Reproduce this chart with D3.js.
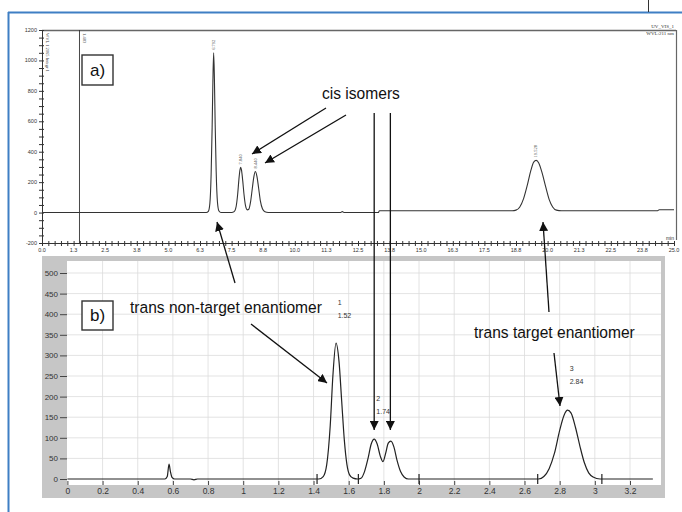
<!DOCTYPE html>
<html><head><meta charset="utf-8">
<script src="https://cdn.jsdelivr.net/npm/d3@7"></script>
<style>body{margin:0;background:#fff}svg{display:block}</style>
</head><body>
<svg id="c" width="682" height="512"></svg>
<script>
// ---------- chart (a): HPLC chromatogram, time (min) vs mAU ----------
const aTime = [0, 6.50, 6.58, 6.64, 6.69, 6.73, 6.76, 6.79, 6.82, 6.85, 6.89, 6.94, 7.00, 7.08,
  7.50, 7.60, 7.68, 7.74, 7.79, 7.83, 7.86, 7.89, 7.94, 7.99, 8.05, 8.12, 8.18, 8.25, 8.32, 8.38,
  8.44, 8.50, 8.57, 8.64, 8.72, 8.82, 8.95, 11.80, 11.88, 11.96, 13.30, 13.35, 18.60, 18.75, 18.90,
  19.05, 19.20, 19.33, 19.45, 19.55, 19.65, 19.78, 19.92, 20.06, 20.20, 20.35, 20.55, 24.35, 24.42, 25.0];
const aSignal = [0, 0, 8, 60, 250, 560, 860, 1050, 880, 580, 270, 70, 10, 0,
  0, 6, 40, 120, 220, 280, 297, 280, 210, 120, 45, 18, 22, 70, 160, 235,
  270, 240, 160, 75, 25, 5, 0, 0, 6, 0, 0, 12, 12, 16, 37,
  92, 182, 272, 332, 343, 326, 262, 172, 87, 37, 16, 12, 12, 19, 19];
const aPeakTimes = [6.792, 7.840, 8.440, 19.528];
const aPeakValues = [1050, 297, 270, 343];
const aPeakLabels = ["6.792", "7.840", "8.440", "19.528"];
const aXTicks = [0, 1.25, 2.5, 3.75, 5, 6.25, 7.5, 8.75, 10, 11.25, 12.5, 13.75, 15, 16.25, 17.5, 18.75, 20, 21.25, 22.5, 23.75, 25];
const aXTickLabels = ["0.0","1.3","2.5","3.8","5.0","6.3","7.5","8.8","10.0","11.3","12.5","13.8","15.0","16.3","17.5","18.8","20.0","21.3","22.5","23.8","25.0"];
const aYTicks = [-200, 0, 200, 400, 600, 800, 1000, 1200];
const aInjectionTime = 1.483;

// ---------- chart (b): chromatogram ----------
const bTime = [0, 0.555, 0.568, 0.578, 0.586, 0.595, 0.61, 0.70, 0.72, 0.74,
  1.43, 1.455, 1.475, 1.495, 1.51, 1.528, 1.545, 1.56, 1.575, 1.59, 1.605, 1.625, 1.65,
  1.67, 1.69, 1.71, 1.728, 1.745, 1.762, 1.78, 1.795, 1.81, 1.825, 1.84, 1.857, 1.875, 1.895, 1.915, 1.94,
  2.68, 2.71, 2.74, 2.77, 2.80, 2.825, 2.845, 2.865, 2.89, 2.915, 2.94, 2.965, 2.99, 3.03, 3.33];
const bSignal = [0, 0, 6, 36, 18, 4, 0, 0, -2, 0,
  0, 6, 35, 130, 250, 330, 285, 190, 95, 35, 10, 2, 0,
  2, 18, 50, 85, 97, 85, 55, 42, 62, 87, 92, 78, 45, 18, 5, 0,
  0, 6, 25, 62, 118, 155, 167, 160, 125, 80, 40, 15, 5, 0, 0];
const bPeakNumbers = ["1", "2", "3"];
const bPeakTimes = ["1.52", "1.74", "2.84"];
const bPeakLabelX = [1.52, 1.74, 2.84];
const bPeakLabelY = [422, 189, 262];
const bXTicks = [0, 0.2, 0.4, 0.6, 0.8, 1, 1.2, 1.4, 1.6, 1.8, 2, 2.2, 2.4, 2.6, 2.8, 3, 3.2];
const bYTicks = [0, 50, 100, 150, 200, 250, 300, 350, 400, 450, 500];
const bIntegrationMarks = [1.42, 1.655, 2.0, 2.675, 3.04];

// ---------- drawing ----------
const svg = d3.select("#c");
const narrow = "'Liberation Sans Narrow','Arial Narrow','Liberation Sans',Arial,sans-serif";

// text squeezed horizontally to a given width (condensed look)
function fitText(g, str, x, y, width, size) {
  const t = g.append("text").attr("font-size", size).attr("font-family", narrow).attr("fill", "#111").text(str);
  const len = t.node().getComputedTextLength();
  t.attr("transform", `translate(${x},${y}) scale(${width / len},1)`);
  return t;
}

const defs = svg.append("defs");
defs.append("marker").attr("id", "ah").attr("viewBox", "0 0 10 10").attr("refX", 10).attr("refY", 5)
  .attr("markerWidth", 9).attr("markerHeight", 9).attr("markerUnits", "userSpaceOnUse").attr("orient", "auto")
  .append("path").attr("d", "M0,0 L10,5 L0,10 Z").attr("fill", "#111");

// blue frame
svg.append("line").attr("x1", 8.5).attr("x2", 8.5).attr("y1", 12).attr("y2", 512).attr("stroke", "#3f7fc4").attr("stroke-width", 2);
svg.append("line").attr("x1", 8).attr("x2", 682).attr("y1", 12.5).attr("y2", 12.5).attr("stroke", "#3f7fc4").attr("stroke-width", 2);
svg.append("line").attr("x1", 648.5).attr("x2", 648.5).attr("y1", 0).attr("y2", 12).attr("stroke", "#333").attr("stroke-width", 1);

// ===== chart a =====
const xA = d3.scaleLinear().domain([0, 25]).range([42, 674]);
const yA = d3.scaleLinear().domain([-200, 1200]).range([243, 30]);
const gA = svg.append("g");
gA.append("line").attr("x1", 42).attr("x2", 676).attr("y1", 30.5).attr("y2", 30.5).attr("stroke", "#666").attr("stroke-width", 1.6);
gA.append("line").attr("x1", 676.5).attr("x2", 676.5).attr("y1", 30).attr("y2", 240).attr("stroke", "#666").attr("stroke-width", 1.2);

const axA = gA.append("g").attr("transform", `translate(0,${yA(-200)})`);
axA.call(d3.axisBottom(xA).tickValues(d3.range(0, 25.01, 0.25)).tickSize(3).tickFormat(""));
axA.selectAll(".tick line").attr("y1", -2).attr("stroke", "#333");
axA.select(".domain").attr("stroke", "#333");
axA.selectAll(".tickl").data(aXTicks).enter().append("text")
  .attr("x", d => xA(d)).attr("y", 8.5).attr("text-anchor", "middle")
  .attr("font-size", 5.5).attr("font-family", "Arial,sans-serif").attr("fill", "#333")
  .text((d, i) => aXTickLabels[i]);
axA.append("text").attr("x", 674).attr("y", -3).attr("text-anchor", "end").attr("font-size", 5).attr("fill", "#333").text("min");

const ayA = gA.append("g").attr("transform", `translate(${xA(0)},0)`);
ayA.call(d3.axisLeft(yA).tickValues(d3.range(-200, 1201, 50)).tickSize(3).tickFormat(""));
ayA.selectAll(".tick line").attr("x1", 2).attr("stroke", "#333");
ayA.select(".domain").attr("stroke", "#333");
ayA.selectAll(".tickl").data(aYTicks).enter().append("text")
  .attr("x", -5).attr("y", d => yA(d) + 2).attr("text-anchor", "end")
  .attr("font-size", 5.5).attr("font-family", "Arial,sans-serif").attr("fill", "#333").text(d => d);

gA.append("line").attr("x1", xA(aInjectionTime)).attr("x2", xA(aInjectionTime)).attr("y1", yA(1200)).attr("y2", yA(-200)).attr("stroke", "#333").attr("stroke-width", 0.9);
gA.append("text").attr("transform", `translate(${xA(aInjectionTime) + 4},33) rotate(90)`).attr("font-size", 4.5).attr("fill", "#444").text("1.483");
gA.append("text").attr("transform", `translate(${xA(0) + 4},33) rotate(90)`).attr("font-size", 4.5).attr("fill", "#444").text("WVL 1 2065 Integr 1");

gA.append("text").attr("x", 674).attr("y", 28).attr("text-anchor", "end").attr("font-size", 5).attr("fill", "#333").text("UV_VIS_1");
gA.append("text").attr("x", 674).attr("y", 35).attr("text-anchor", "end").attr("font-size", 5).attr("fill", "#333").text("WVL:211 nm");

const lineA = d3.line().x((d, i) => xA(aTime[i])).y(d => yA(d)).curve(d3.curveMonotoneX);
gA.append("path").attr("d", lineA(aSignal)).attr("fill", "none").attr("stroke", "#333").attr("stroke-width", 1.1);

gA.selectAll(".pl").data(aPeakLabels).enter().append("text")
  .attr("transform", (d, i) => `translate(${xA(aPeakTimes[i]) + 1.5},${yA(aPeakValues[i]) - 3}) rotate(-90)`)
  .attr("font-size", 4.5).attr("fill", "#444").text(d => d);

gA.append("rect").attr("x", 82).attr("y", 55).attr("width", 31).attr("height", 30).attr("fill", "#fff").attr("stroke", "#333").attr("stroke-width", 1.4);
gA.append("text").attr("x", 97.5).attr("y", 76).attr("text-anchor", "middle").attr("font-size", 17).attr("font-family", "Arial,sans-serif").attr("fill", "#111").text("a)");

fitText(gA, "cis isomers", 322, 99, 78, 17);

// ===== chart b =====
const xB = d3.scaleLinear().domain([0, 3.2]).range([67.4, 630]);
const yB = d3.scaleLinear().domain([0, 500]).range([479, 273]);
const gB = svg.append("g");
gB.append("rect").attr("x", 42).attr("y", 256).attr("width", 623).attr("height", 242).attr("fill", "#c6c6c6");
gB.append("rect").attr("x", 67).attr("y", 261).attr("width", 594).attr("height", 224).attr("fill", "#fff");

gB.selectAll(".gx").data(d3.range(0.2, 3.31, 0.2)).enter().append("line")
  .attr("x1", d => xB(d)).attr("x2", d => xB(d)).attr("y1", 261).attr("y2", 485).attr("stroke", "#dcdcdc").attr("stroke-width", 0.8);
gB.selectAll(".gy").data(bYTicks.slice(1)).enter().append("line")
  .attr("y1", d => yB(d)).attr("y2", d => yB(d)).attr("x1", 67).attr("x2", 661).attr("stroke", "#dcdcdc").attr("stroke-width", 0.8);

const ayB = gB.append("g").attr("transform", "translate(67,0)");
ayB.call(d3.axisLeft(yB).tickValues(bYTicks).tickSize(7).tickPadding(2));
ayB.select(".domain").remove();
ayB.selectAll(".tick line").attr("stroke", "#444");
ayB.selectAll(".tick text").attr("font-size", 8).attr("font-family", "Arial,sans-serif").attr("fill", "#333");

const axB = gB.append("g").attr("transform", `translate(0,${yB(0) + 2})`);
axB.call(d3.axisBottom(xB).tickValues(bXTicks).tickSize(4).tickPadding(3).tickFormat(d => d3.format("~g")(d)));
axB.select(".domain").remove();
axB.selectAll(".tick line").attr("stroke", "#444");
axB.selectAll(".tick text").attr("font-size", 8.5).attr("font-family", "Arial,sans-serif").attr("fill", "#333");

gB.selectAll(".im").data(bIntegrationMarks).enter().append("line")
  .attr("x1", d => xB(d)).attr("x2", d => xB(d)).attr("y1", yB(0) - 5).attr("y2", yB(0) + 5)
  .attr("stroke", "#222").attr("stroke-width", 1.2);

const lineB = d3.line().x((d, i) => xB(bTime[i])).y(d => yB(d)).curve(d3.curveMonotoneX);
gB.append("path").attr("d", lineB(bSignal)).attr("fill", "none").attr("stroke", "#222").attr("stroke-width", 1.2);

gB.selectAll(".pn").data(bPeakNumbers).enter().append("text")
  .attr("x", (d, i) => xB(bPeakLabelX[i]) + 3).attr("y", (d, i) => yB(bPeakLabelY[i]))
  .attr("font-size", 7).attr("font-family", "Arial,sans-serif").attr("fill", "#333").text(d => d);
gB.selectAll(".pt").data(bPeakTimes).enter().append("text")
  .attr("x", (d, i) => xB(bPeakLabelX[i]) + 3).attr("y", (d, i) => yB(bPeakLabelY[i]) + 13)
  .attr("font-size", 7).attr("font-family", "Arial,sans-serif").attr("fill", "#333").text(d => d);

gB.append("rect").attr("x", 82).attr("y", 301).attr("width", 31).attr("height", 29).attr("fill", "#fff").attr("stroke", "#333").attr("stroke-width", 1.4);
gB.append("text").attr("x", 97.5).attr("y", 321).attr("text-anchor", "middle").attr("font-size", 17).attr("font-family", "Arial,sans-serif").attr("fill", "#111").text("b)");

fitText(gB, "trans non-target enantiomer", 130, 313, 192, 17);
fitText(gB, "trans target enantiomer", 474, 338, 161, 17);

// ===== annotation arrows =====
const arrows = [
  [326, 108, 252, 154],
  [346, 115, 265, 163],
  [xB(1.745), 113, xB(1.745), 430],
  [xB(1.837), 113, xB(1.837), 430],
  [235, 283, 217, 222],
  [549, 312, 543, 222],
  [251, 324, 327, 383],
  [554, 353, 560, 406]
];
svg.selectAll(".arw").data(arrows).enter().append("line")
  .attr("x1", d => d[0]).attr("y1", d => d[1]).attr("x2", d => d[2]).attr("y2", d => d[3])
  .attr("stroke", "#111").attr("stroke-width", 1.3).attr("marker-end", "url(#ah)");
</script>
</body></html>
